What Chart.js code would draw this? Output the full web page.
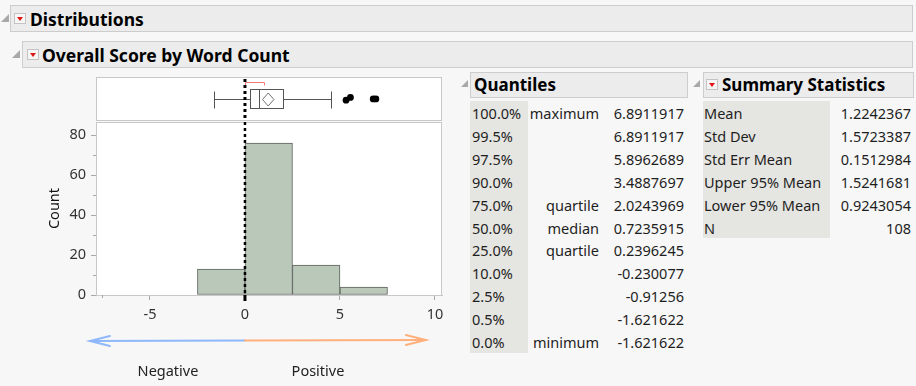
<!DOCTYPE html>
<html><head><meta charset="utf-8">
<script src="https://cdn.jsdelivr.net/npm/chart.js@4"></script>
<style>
html,body{margin:0;padding:0;}
body{width:916px;height:386px;background:#f7f7f7;position:relative;overflow:hidden;font-family:"Noto Sans",sans-serif;color:#1a1a1a;}
.hdr{position:absolute;background:#ececec;border:1px solid #cdcdcd;box-sizing:border-box;}
.ht{position:absolute;font-weight:bold;font-size:17.5px;line-height:20px;color:#000;white-space:nowrap;}
.ht2{font-size:17px;}
.disc{position:absolute;width:0;height:0;border-left:8px solid transparent;border-bottom:8px solid #a8a8a8;}
.btn{position:absolute;width:12px;height:11px;border:1px solid #c4c4c4;background:#f6f6f6;box-sizing:border-box;}
.btn:after{content:"";position:absolute;left:2px;top:3px;border-left:3px solid transparent;border-right:3px solid transparent;border-top:4px solid #e01515;}
.col{position:absolute;background:#e5e5e1;}
.cell{position:absolute;font-size:14.5px;height:22.9px;line-height:22.9px;white-space:nowrap;color:#1e1e1e;}
.lbl{position:absolute;font-size:14.5px;line-height:20px;color:#222;white-space:nowrap;transform:translateX(-50%);}
canvas{position:absolute;}
</style></head>
<body>
<div class="disc" style="left:1px;top:14px;"></div>
<div class="hdr" style="left:10px;top:5px;width:903px;height:27px;"></div>
<div class="btn" style="left:14px;top:13px;"></div>
<div class="ht" style="left:30px;top:9px;">Distributions</div>

<div class="disc" style="left:12px;top:50px;"></div>
<div class="hdr" style="left:22px;top:41px;width:891px;height:27px;"></div>
<div class="btn" style="left:27px;top:49px;"></div>
<div class="ht" style="left:42px;top:45px;">Overall Score by Word Count</div>

<div class="disc" style="left:461px;top:80px;border-left-width:7px;border-bottom-width:7px;"></div>
<div class="hdr" style="left:470px;top:72px;width:218px;height:26px;"></div>
<div class="ht ht2" style="left:474px;top:75px;">Quantiles</div>

<div class="disc" style="left:693px;top:80px;border-left-width:7px;border-bottom-width:7px;"></div>
<div class="hdr" style="left:703px;top:72px;width:211px;height:26px;"></div>
<div class="btn" style="left:706px;top:79px;"></div>
<div class="ht ht2" style="left:722px;top:75px;">Summary Statistics</div>

<div id="tables"></div>

<canvas id="hist" width="420" height="276" style="left:40px;top:110px;"></canvas>
<canvas id="box" width="420" height="54" style="left:40px;top:70px;"></canvas>

<div class="lbl" style="left:168px;top:360px;">Negative</div>
<div class="lbl" style="left:318px;top:360px;">Positive</div>

<script>
// ---- data ----
const binCenters = [-1.25, 1.25, 3.75, 6.25];
const counts = [13, 76, 15, 4];
const xTicks = [-5, 0, 5, 10];
const xMinorTicks = [-7.5];
const yTicks = [0, 20, 40, 60, 80];
const yMinorTicks = [10, 30, 50, 70];
const xMin = -7.84, xMax = 10.37, yMax = 86.5;

const whiskerLow = -1.621622, q1 = 0.2396245, median = 0.7235915, q3 = 2.0243969, whiskerHigh = 4.53;
const mean = 1.2242367, ciLow = 0.9243054, ciHigh = 1.5241681;
const shortestHalf = [0.0, 1.02];
const outliers = [5.32, 5.55, 6.75, 6.89];
const outlierJitter = [-0.03, 0.035, 0.0, 0.0];

const arrowRange = [-8.16, 0, 9.52];

const quantileLevels = ['100.0%','99.5%','97.5%','90.0%','75.0%','50.0%','25.0%','10.0%','2.5%','0.5%','0.0%'];
const quantileLabels = ['maximum','','','','quartile','median','quartile','','','','minimum'];
const quantileValues = ['6.8911917','6.8911917','5.8962689','3.4887697','2.0243969','0.7235915','0.2396245','-0.230077','-0.91256','-1.621622','-1.621622'];
const summaryNames = ['Mean','Std Dev','Std Err Mean','Upper 95% Mean','Lower 95% Mean','N'];
const summaryValues = ['1.2242367','1.5723387','0.1512984','1.5241681','0.9243054','108'];

// ---- tables ----
const RH = 22.9;
let html = '';
html += `<div class="col" style="left:470px;top:101px;width:58px;height:${(RH*quantileLevels.length).toFixed(1)}px;"></div>`;
quantileLevels.forEach((q,i)=>{
  const t = 102 + i*RH;
  html += `<div class="cell" style="left:472px;top:${t}px;">${q}</div>`;
  html += `<div class="cell" style="right:${916-599}px;top:${t}px;">${quantileLabels[i]}</div>`;
  html += `<div class="cell" style="right:${916-684}px;top:${t}px;">${quantileValues[i]}</div>`;
});
html += `<div class="col" style="left:703px;top:101px;width:127px;height:${(RH*summaryNames.length).toFixed(1)}px;"></div>`;
summaryNames.forEach((n,i)=>{
  const t = 102 + i*RH;
  html += `<div class="cell" style="left:704px;top:${t}px;">${n}</div>`;
  html += `<div class="cell" style="right:${916-911}px;top:${t}px;">${summaryValues[i]}</div>`;
});
document.getElementById('tables').innerHTML = html;

// ---- charts ----
const FONT = {family:'Noto Sans', size:14.5};
const FRAME = '#c8c8c8', TICK = '#a8a8a8';

const histPlugin = {
  id:'histDeco',
  beforeDraw(chart){
    const {ctx, chartArea:a} = chart;
    ctx.save(); ctx.fillStyle='#fff'; ctx.fillRect(a.left, a.top, a.right-a.left, a.bottom-a.top); ctx.restore();
  },
  afterDatasetsDraw(chart){
    const {ctx, chartArea:a, scales:{x, y}} = chart;
    ctx.save();
    ctx.strokeStyle = FRAME; ctx.lineWidth = 1;
    ctx.strokeRect(a.left+0.5, a.top+0.5, a.right-a.left-1, a.bottom-a.top);
    // minor ticks
    ctx.strokeStyle = TICK;
    yMinorTicks.forEach(v=>{ const py=Math.round(y.getPixelForValue(v))+0.5; ctx.beginPath(); ctx.moveTo(a.left-3,py); ctx.lineTo(a.left,py); ctx.stroke(); });
    xMinorTicks.forEach(v=>{ const px=Math.round(x.getPixelForValue(v))+0.5; ctx.beginPath(); ctx.moveTo(px,a.bottom); ctx.lineTo(px,a.bottom+3); ctx.stroke(); });
    // zero dashed line
    const x0 = x.getPixelForValue(0);
    ctx.strokeStyle = '#000'; ctx.lineWidth = 2.5; ctx.setLineDash([3,3]);
    ctx.beginPath(); ctx.moveTo(x0, a.top); ctx.lineTo(x0, a.bottom); ctx.stroke();
    ctx.setLineDash([]);
    ctx.lineWidth = 3; ctx.beginPath(); ctx.moveTo(x0, a.bottom); ctx.lineTo(x0, a.bottom+6); ctx.stroke();
    // arrow
    const ay = 231;
    const xl = x.getPixelForValue(arrowRange[0]), xm = x.getPixelForValue(arrowRange[1]), xr = x.getPixelForValue(arrowRange[2]);
    ctx.lineWidth = 2; ctx.lineCap='round';
    ctx.strokeStyle = '#8fb8fb';
    ctx.beginPath(); ctx.moveTo(xl, ay); ctx.lineTo(xm, ay-0.5); ctx.stroke();
    ctx.beginPath(); ctx.moveTo(xl+20, ay-5); ctx.lineTo(xl, ay); ctx.lineTo(xl+20, ay+5); ctx.stroke();
    ctx.strokeStyle = '#ffb07c';
    ctx.beginPath(); ctx.moveTo(xm, ay-0.5); ctx.lineTo(xr, ay-1); ctx.stroke();
    ctx.beginPath(); ctx.moveTo(xr-20, ay-6); ctx.lineTo(xr, ay-1); ctx.lineTo(xr-20, ay+4); ctx.stroke();
    ctx.restore();
  }
};

new Chart(document.getElementById('hist'), {
  type:'bar',
  data:{datasets:[{
    data: binCenters.map((c,i)=>({x:c, y:counts[i]})),
    backgroundColor:'#b9c8b9', borderColor:'#5c625c', borderWidth:1, borderSkipped:false,
    barPercentage:1, categoryPercentage:1
  }]},
  options:{
    responsive:false, animation:false, devicePixelRatio:1,
    layout:{padding:{top:12,right:18,left:0,bottom:0}},
    plugins:{legend:{display:false}, tooltip:{enabled:false}},
    scales:{
      x:{type:'linear', min:xMin, max:xMax, offset:false,
        afterFit(s){ s.height = 91; s.paddingLeft = 0; s.paddingRight = 0; },
        afterBuildTicks(s){ s.ticks = xTicks.map(v=>({value:v})); },
        grid:{drawOnChartArea:false, tickLength:5, tickColor:TICK, offset:false},
        border:{display:true, color:FRAME},
        ticks:{padding:6, color:'#333', font:FONT, maxRotation:0, autoSkip:false}},
      y:{type:'linear', min:0, max:yMax,
        afterFit(s){ s.width = 56; s.paddingTop = 0; s.paddingBottom = 0; },
        afterBuildTicks(s){ s.ticks = yTicks.map(v=>({value:v})); },
        grid:{drawOnChartArea:false, tickLength:5, tickColor:TICK},
        border:{display:true, color:FRAME},
        ticks:{padding:5, color:'#333', font:FONT},
        title:{display:true, text:'Count', color:'#111', font:FONT, padding:{top:6,bottom:0}}}
    }
  },
  plugins:[histPlugin]
});

const boxMid = 0.49, bracketY = 0.885;
const boxPlugin = {
  id:'boxDeco',
  beforeDatasetsDraw(chart){
    const {ctx, chartArea:a, scales:{x, y}} = chart;
    ctx.save();
    ctx.fillStyle='#fff'; ctx.fillRect(a.left, a.top, a.right-a.left, a.bottom-a.top+1);
    ctx.strokeStyle = FRAME; ctx.lineWidth = 1;
    ctx.strokeRect(a.left+0.5, a.top+0.5, a.right-a.left-1, a.bottom-a.top);
    const py = Math.round(y.getPixelForValue(boxMid))+0.5;
    const px = v => Math.round(x.getPixelForValue(v))+0.5;
    ctx.strokeStyle = '#555';
    // whiskers
    ctx.beginPath();
    ctx.moveTo(px(whiskerLow), py); ctx.lineTo(px(q1), py);
    ctx.moveTo(px(q3), py); ctx.lineTo(px(whiskerHigh), py);
    ctx.moveTo(px(whiskerLow), py-8); ctx.lineTo(px(whiskerLow), py+9);
    ctx.moveTo(px(whiskerHigh), py-8); ctx.lineTo(px(whiskerHigh), py+9);
    ctx.stroke();
    // box
    ctx.strokeRect(px(q1), py-10, px(q3)-px(q1), 19);
    ctx.beginPath(); ctx.moveTo(px(median), py-10); ctx.lineTo(px(median), py+9); ctx.stroke();
    // mean diamond
    const mx = x.getPixelForValue(mean);
    ctx.strokeStyle = '#707070';
    ctx.beginPath();
    ctx.moveTo(x.getPixelForValue(ciLow), py); ctx.lineTo(mx, py-6.5);
    ctx.lineTo(x.getPixelForValue(ciHigh), py); ctx.lineTo(mx, py+6.5); ctx.closePath(); ctx.stroke();
    // shortest half bracket
    const by = Math.round(y.getPixelForValue(bracketY))+0.5;
    ctx.strokeStyle = '#f07878';
    ctx.beginPath();
    ctx.moveTo(px(shortestHalf[0]), by+3); ctx.lineTo(px(shortestHalf[0]), by);
    ctx.lineTo(px(shortestHalf[1]), by); ctx.lineTo(px(shortestHalf[1]), by+3);
    ctx.stroke();
    // zero line
    const x0 = x.getPixelForValue(0);
    ctx.strokeStyle = '#000'; ctx.lineWidth = 3; ctx.setLineDash([3,3]);
    ctx.beginPath(); ctx.moveTo(x0, a.top+2); ctx.lineTo(x0, a.bottom); ctx.stroke();
    ctx.restore();
  }
};

new Chart(document.getElementById('box'), {
  type:'scatter',
  data:{datasets:[{
    data: outliers.map((v,i)=>({x:v, y:boxMid+outlierJitter[i]})),
    pointRadius:3.4, pointBackgroundColor:'#000', pointBorderWidth:0, pointBorderColor:'#000'
  }]},
  options:{
    responsive:false, animation:false, devicePixelRatio:1,
    layout:{padding:{left:56,right:18,top:7,bottom:2}},
    plugins:{legend:{display:false}, tooltip:{enabled:false}},
    scales:{ x:{type:'linear', min:xMin, max:xMax, display:false}, y:{type:'linear', min:0, max:1, display:false} }
  },
  plugins:[boxPlugin]
});
</script>
</body></html>
